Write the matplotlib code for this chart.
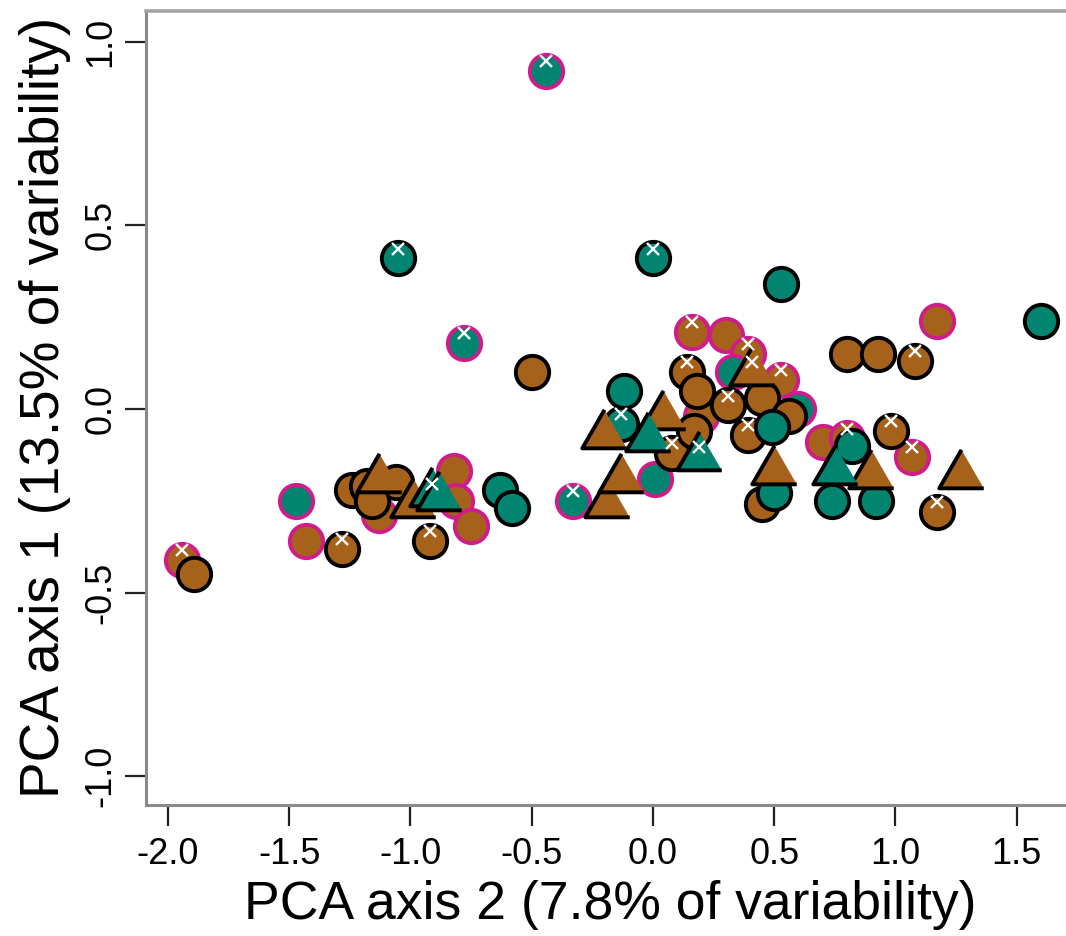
import numpy as np
import matplotlib
matplotlib.use("Agg")
import matplotlib.pyplot as plt
from matplotlib import transforms

plt.rcParams['font.family'] = ['Liberation Sans', 'DejaVu Sans']

# PCA scores (axis 2 on x, axis 1 on y)
pc2 = [-0.44, -1.05, 0.00, 0.53, -0.78, 1.60, -0.50, 1.17, 0.80, 0.93,
       1.08, 0.16, 0.30, -1.94, -1.89, -1.47, -1.43, -1.28, -1.24, -1.18,
       -1.06, -1.13, -1.16, -1.13, -0.99, -0.91, -0.88, -0.82, -0.81, -0.75,
       -0.92, -0.63, -0.58, -0.33, -0.19, -0.13, -0.20, -0.12, -0.13, -0.02,
       0.04, 0.01, 0.08, 0.19, 0.14, 0.18, 0.20, 0.31, 0.39, 0.45,
       0.33, 0.41, 0.53, 0.49, 0.60, 0.56, 0.50, 0.50, 0.45, 0.70,
       0.80, 0.82, 0.75, 0.74, 0.90, 0.92, 0.98, 1.07, 1.27, 1.17,
       0.39, 0.17]
pc1 = [0.92, 0.41, 0.41, 0.34, 0.18, 0.24, 0.10, 0.24, 0.15, 0.15,
       0.13, 0.21, 0.20, -0.41, -0.45, -0.25, -0.36, -0.38, -0.22, -0.21,
       -0.20, -0.29, -0.25, -0.19, -0.26, -0.23, -0.24, -0.17, -0.25, -0.32,
       -0.36, -0.22, -0.27, -0.25, -0.26, -0.19, -0.07, 0.05, -0.04, -0.08,
       -0.02, -0.19, -0.12, -0.13, 0.10, 0.05, -0.02, 0.01, -0.07, 0.03,
       0.10, 0.10, 0.08, -0.05, 0.00, -0.02, -0.17, -0.23, -0.26, -0.09,
       -0.08, -0.10, -0.17, -0.25, -0.18, -0.25, -0.06, -0.13, -0.18, -0.28,
       0.15, -0.06]
# o = circle, ^ = triangle
shape = ['o', 'o', 'o', 'o', 'o', 'o', 'o', 'o', 'o', 'o',
         'o', 'o', 'o', 'o', 'o', 'o', 'o', 'o', 'o', 'o',
         'o', 'o', 'o', '^', '^', '^', '^', 'o', 'o', 'o',
         'o', 'o', 'o', 'o', '^', '^', '^', 'o', 'o', '^',
         '^', 'o', 'o', '^', 'o', 'o', 'o', 'o', 'o', 'o',
         'o', '^', 'o', 'o', 'o', 'o', '^', 'o', 'o', 'o',
         'o', 'o', '^', 'o', '^', 'o', 'o', 'o', '^', 'o',
         'o', 'o']
# B = brown group, T = teal group
group = ['T', 'T', 'T', 'T', 'T', 'T', 'B', 'B', 'B', 'B',
         'B', 'B', 'B', 'B', 'B', 'T', 'B', 'B', 'B', 'B',
         'B', 'B', 'B', 'B', 'B', 'T', 'T', 'B', 'B', 'B',
         'B', 'T', 'T', 'T', 'B', 'B', 'B', 'T', 'T', 'T',
         'B', 'T', 'B', 'T', 'B', 'B', 'B', 'B', 'B', 'B',
         'T', 'B', 'B', 'T', 'T', 'B', 'B', 'T', 'B', 'B',
         'B', 'T', 'T', 'T', 'B', 'T', 'B', 'B', 'B', 'B',
         'B', 'B']
# 1 = magenta outline
ring = [1, 0, 0, 0, 1, 0, 0, 1, 0, 0,
        0, 1, 1, 1, 0, 1, 1, 0, 0, 0,
        0, 1, 0, 0, 0, 0, 0, 1, 1, 1,
        0, 0, 0, 1, 0, 0, 0, 0, 0, 0,
        0, 1, 0, 0, 0, 0, 1, 0, 0, 0,
        1, 0, 1, 0, 1, 0, 0, 0, 0, 1,
        1, 0, 0, 0, 0, 0, 0, 1, 0, 0,
        1, 0]
# 1 = crossed
cross = [1, 1, 1, 0, 1, 0, 0, 0, 0, 0,
         1, 1, 0, 1, 0, 0, 0, 1, 0, 0,
         0, 0, 0, 0, 0, 1, 0, 0, 0, 0,
         1, 0, 0, 1, 0, 0, 0, 0, 1, 0,
         0, 0, 1, 1, 1, 0, 0, 1, 1, 0,
         0, 1, 1, 0, 0, 0, 0, 0, 0, 0,
         1, 0, 0, 0, 0, 0, 1, 1, 0, 1,
         1, 0]

fills = {'B': '#A6611A', 'T': '#018571'}
tri = [(0, 1), (-0.866, -0.5), (0.866, -0.5)]

fig = plt.figure(figsize=(10.66, 9.36), dpi=100)
ax = fig.add_axes([0.1374, 0.140, 0.871, 0.8486])

x = np.array(pc2)
y = np.array(pc1)
sh = np.array(shape)
gr = np.array(group)
rg = np.array(ring)
cr = np.array(cross)

# magenta-ringed circles underneath, then black circles, then triangles
for z, (s, r) in enumerate([('o', 1), ('o', 0), ('^', 0)]):
    for g in ['B', 'T']:
        sel = (sh == s) & (rg == r) & (gr == g)
        if not sel.any():
            continue
        if s == 'o':
            ax.plot(x[sel], y[sel], 'o', ms=24, mfc=fills[g],
                    mec='#D01C8B' if r else 'black', mew=2.8,
                    zorder=2 + z, clip_on=False)
        else:
            ax.plot(x[sel], y[sel], ls='none', marker=tri, ms=37, mfc=fills[g],
                    mec='black', mew=2.8, zorder=2 + z, clip_on=False)

up = transforms.offset_copy(ax.transData, fig=fig, y=7, units='points')
ax.plot(x[cr == 1], y[cr == 1], 'x', ms=8, mec='white', mew=1.7,
        transform=up, zorder=6)

ax.set_xlim(-2.088, 1.74)
ax.set_ylim(-1.078, 1.084)
ax.set_xticks([-2.0, -1.5, -1.0, -0.5, 0.0, 0.5, 1.0, 1.5])
ax.set_yticks([-1.0, -0.5, 0.0, 0.5, 1.0])
ax.set_xticklabels(['-2.0', '-1.5', '-1.0', '-0.5', '0.0', '0.5', '1.0', '1.5'])
ax.set_yticklabels(['-1.0', '-0.5', '0.0', '0.5', '1.0'], rotation=90, va='center')

ax.tick_params(axis='both', direction='out', length=15, width=1.6, color='#222222',
               labelsize=26, labelcolor='black')
ax.tick_params(axis='x', pad=8)
ax.tick_params(axis='y', pad=5)

for side in ['left', 'bottom']:
    ax.spines[side].set_color('#8a8a8a')
    ax.spines[side].set_linewidth(2.2)
ax.spines['top'].set_color('#a4a4a4')
ax.spines['top'].set_linewidth(2.6)
ax.spines['right'].set_visible(False)

ax.set_xlabel('PCA axis 2 (7.8% of variability)', fontsize=38.5, va='center')
ax.set_ylabel('PCA axis 1 (13.5% of variability)', fontsize=39.5, va='center', ha='center')
ax.xaxis.set_label_coords(0.499, -0.126)
ax.yaxis.set_label_coords(-0.109, 0.501)

fig.savefig('out.png', dpi=100)
